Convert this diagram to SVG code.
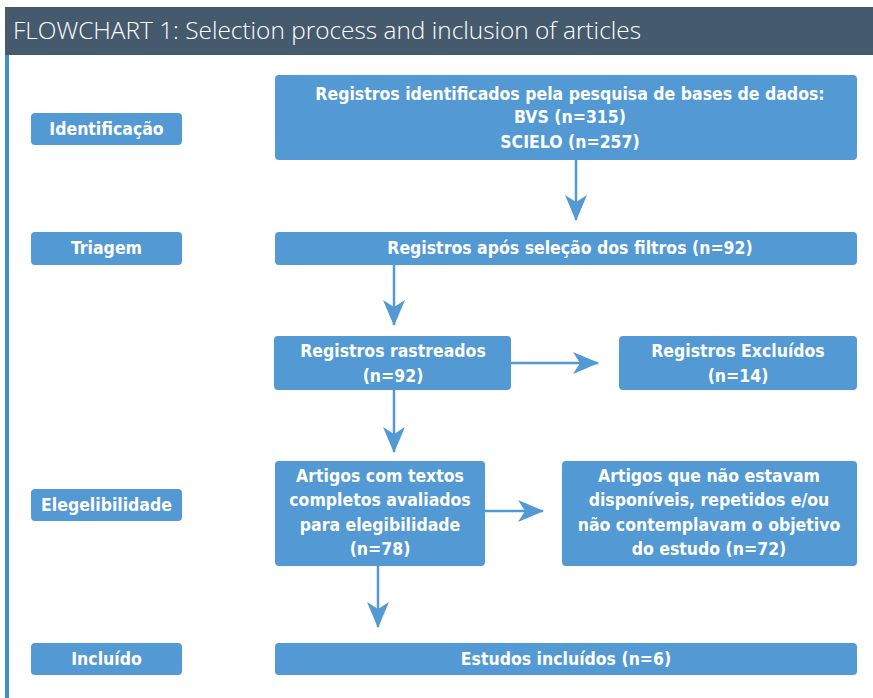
<svg xmlns="http://www.w3.org/2000/svg" width="873" height="698" viewBox="0 0 873 698">
<style>
.box{fill:#5399d4;}
.t{font-family:"DejaVu Sans Condensed","DejaVu Sans",sans-serif;font-weight:bold;font-size:17.5px;fill:#ffffff;text-anchor:middle;}
.c{stroke:#5399d4;stroke-width:2.5;fill:none;}
.title{font-family:"Open Sans",sans-serif;font-weight:300;font-size:23px;fill:#ffffff;}
</style>
<defs>
<marker id="ah" markerUnits="userSpaceOnUse" markerWidth="26" markerHeight="22" refX="25" refY="11" orient="auto">
<path d="M0,0 L26,11 L0,22 L7,11 z" fill="#5399d4"/>
</marker>
</defs>
<rect x="0" y="0" width="873" height="698" fill="#ffffff"/>
<rect x="5" y="7" width="868" height="48" fill="#465a6e"/>
<text class="title" x="13" y="39" textLength="628" lengthAdjust="spacingAndGlyphs">FLOWCHART 1: Selection process and inclusion of articles</text>
<rect x="5" y="55" width="4" height="643" fill="#3f8fcf"/>

<g id="lbl-identificacao"><rect class="box" x="31" y="113" width="151" height="32" rx="4"/><text class="t" x="106.5" y="135">Identificação</text></g>
<g id="lbl-triagem"><rect class="box" x="31" y="232" width="151" height="33" rx="4"/><text class="t" x="106.5" y="254">Triagem</text></g>
<g id="lbl-elegibilidade"><rect class="box" x="31" y="489" width="151" height="32" rx="4"/><text class="t" x="106.5" y="511">Elegelibilidade</text></g>
<g id="lbl-incluido"><rect class="box" x="31" y="643" width="151" height="32" rx="4"/><text class="t" x="106.5" y="665">Incluído</text></g>

<g id="n1"><rect class="box" x="275" y="75" width="582" height="85" rx="4"/>
<text class="t" x="570" y="100">Registros identificados pela pesquisa de bases de dados:</text>
<text class="t" x="570" y="123">BVS (n=315)</text>
<text class="t" x="570" y="148">SCIELO (n=257)</text></g>
<g id="n2"><rect class="box" x="275" y="232" width="582" height="33" rx="4"/>
<text class="t" x="570" y="254">Registros após seleção dos filtros (n=92)</text></g>
<g id="n3"><rect class="box" x="274" y="336" width="237" height="54" rx="4"/>
<text class="t" x="393" y="357">Registros rastreados</text>
<text class="t" x="393" y="382">(n=92)</text></g>
<g id="n4"><rect class="box" x="619" y="336" width="238" height="54" rx="4"/>
<text class="t" x="738" y="357">Registros Excluídos</text>
<text class="t" x="738" y="382">(n=14)</text></g>
<g id="n5"><rect class="box" x="275" y="461" width="210" height="105" rx="4"/>
<text class="t" x="380" y="482">Artigos com textos</text>
<text class="t" x="380" y="506">completos avaliados</text>
<text class="t" x="380" y="531">para elegibilidade</text>
<text class="t" x="380" y="555">(n=78)</text></g>
<g id="n6"><rect class="box" x="562" y="461" width="295" height="105" rx="4"/>
<text class="t" x="709" y="482">Artigos que não estavam</text>
<text class="t" x="709" y="506">disponíveis, repetidos e/ou</text>
<text class="t" x="709" y="531">não contemplavam o objetivo</text>
<text class="t" x="709" y="555">do estudo (n=72)</text></g>
<g id="n7"><rect class="box" x="275" y="643" width="582" height="32" rx="4"/>
<text class="t" x="566" y="665">Estudos incluídos (n=6)</text></g>

<g id="connectors">
<line class="c" x1="576" y1="160" x2="576" y2="220" marker-end="url(#ah)"/>
<line class="c" x1="394" y1="265" x2="394" y2="325" marker-end="url(#ah)"/>
<line class="c" x1="511" y1="363" x2="598" y2="363" marker-end="url(#ah)"/>
<line class="c" x1="394" y1="390" x2="394" y2="452" marker-end="url(#ah)"/>
<line class="c" x1="485" y1="511" x2="543" y2="511" marker-end="url(#ah)"/>
<line class="c" x1="378" y1="566" x2="378" y2="627" marker-end="url(#ah)"/>
</g>
</svg>
